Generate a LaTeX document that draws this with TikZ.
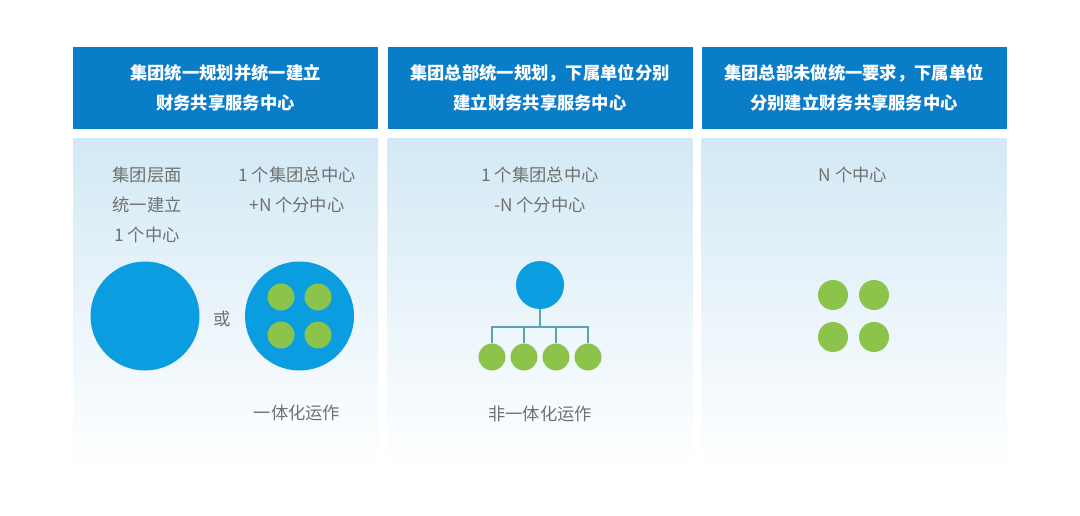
\documentclass[tikz,border=0pt]{standalone}
\usepackage{fontspec}
\setmainfont{Noto Sans CJK SC}
\usepackage{tikz}
\usetikzlibrary{positioning}
\definecolor{headblue}{HTML}{0A7DC8}
\definecolor{ballblue}{HTML}{0A9DE0}
\definecolor{ballgreen}{HTML}{8CC34A}
\definecolor{bodytop}{HTML}{D3E9F5}
\definecolor{txtgrey}{HTML}{707070}
\definecolor{linkgrey}{HTML}{5FA3B3}
\tikzset{
  header/.style = {rectangle, fill = headblue, minimum width = 305pt, minimum height = 82pt, inner sep = 0pt, text = white, align = center, font = \fontsize{17.3}{30}\selectfont\bfseries},
  body/.style = {rectangle, minimum width = 305pt, minimum height = 332pt, inner sep = 0pt, shade, top color = bodytop, bottom color = white},
  label/.style = {text = txtgrey, align = center, font = \fontsize{17.3}{30}\selectfont},
  bigball/.style = {circle, fill = ballblue, minimum size = 109pt, inner sep = 0pt},
  hubball/.style = {circle, fill = ballblue, minimum size = 48pt, inner sep = 0pt},
  leafball/.style = {circle, fill = ballgreen, minimum size = 27pt, inner sep = 0pt},
  cellball/.style = {circle, fill = ballgreen, minimum size = 30pt, inner sep = 0pt}
}
\begin{document}
\begin{tikzpicture}[x = 1pt, y = -1pt]
\useasboundingbox[fill = white] (0,0) rectangle (1080,516);
% panels
\node[body, anchor = north] (b1) at (225.5,138) {};
\node[body, anchor = north] (b2) at (540,138) {};
\node[body, anchor = north] (b3) at (854,138) {};
\node[header] (h1) at (225.5,88) {集团统一规划并统一建立\\财务共享服务中心};
\node[header] (h2) at (540,88) {集团总部统一规划，下属单位分别\\建立财务共享服务中心};
\node[header] (h3) at (854,88) {集团总部未做统一要求，下属单位\\分别建立财务共享服务中心};
% panel 1
\node[label, anchor = north] (t1a) at (147,163) {集团层面\\统一建立\\1 个中心};
\node[label, anchor = north] (t1b) at (297,163) {1 个集团总中心\\+N 个分中心};
\node[bigball] (one) at (145,316) {};
\node[bigball] (group) at (299.5,316) {};
\node[label] (or) at (222,319) {或};
\node[leafball] (g1) at (281,297) {};
\node[leafball] (g2) at (318,297) {};
\node[leafball] (g3) at (281,335) {};
\node[leafball] (g4) at (318,335) {};
\node[label] (t1c) at (297,413) {一体化运作};
% panel 2
\node[label, anchor = north] (t2a) at (540,163) {1 个集团总中心\\-N 个分中心};
\node[hubball] (hub) at (540,285) {};
\coordinate (bus) at (540,327);
\foreach \i/\x in {1/492, 2/524, 3/556, 4/588}
  \node[leafball] (leaf\i) at (\x,357) {};
\draw[linkgrey, line width = 1.2pt] (hub) -- (bus);
\foreach \i in {1,...,4}
  \draw[linkgrey, line width = 1.2pt] (leaf\i) |- (bus);
\node[label] (t2b) at (540,414) {非一体化运作};
% panel 3
\node[label, anchor = north] (t3a) at (853,163) {N 个中心};
\node[cellball] (c1) at (833,295) {};
\node[cellball] (c2) at (874,295) {};
\node[cellball] (c3) at (833,337) {};
\node[cellball] (c4) at (874,337) {};
\end{tikzpicture}
\end{document}
